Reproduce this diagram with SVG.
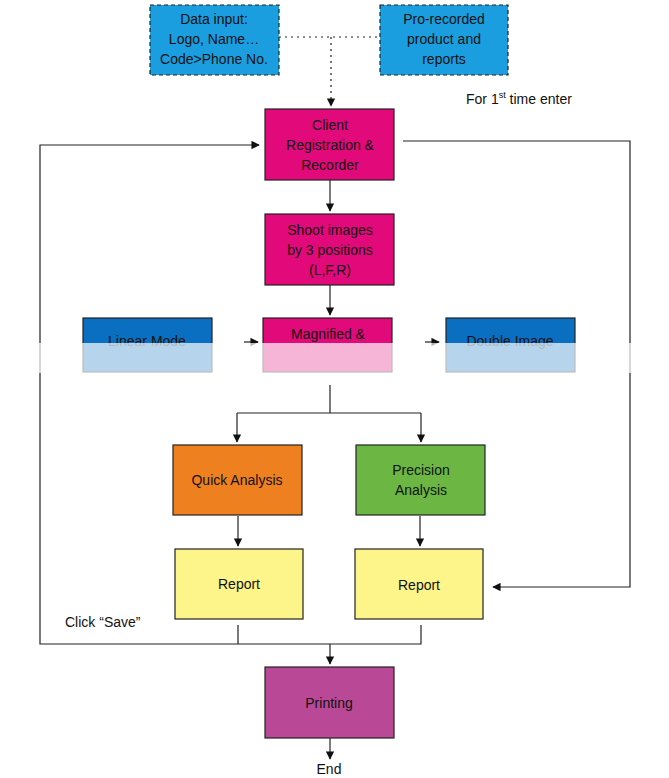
<svg xmlns="http://www.w3.org/2000/svg" width="669" height="778" viewBox="0 0 669 778">
<style>
text{font-family:"Liberation Sans",Arial,sans-serif;font-size:14px;fill:#111;text-anchor:middle}
.l{text-anchor:start}
.b{stroke:#222;stroke-width:1.2}
.c{fill:none;stroke:#222;stroke-width:1.2}
</style>
<defs><marker id="a" viewBox="0 0 10 10" refX="9" refY="5" markerWidth="7" markerHeight="7" orient="auto"><path d="M0,0L10,5L0,10z" fill="#111"/></marker></defs>
<rect width="669" height="778" fill="#fff"/>
<g id="connectors">
<path class="c" d="M279,37H380M331,37V106" stroke-dasharray="2,4" stroke-width="2" marker-end="url(#a)"/>
<path class="c" d="M330,180V211" marker-end="url(#a)"/>
<path class="c" d="M330,285V315" marker-end="url(#a)"/>
<path class="c" d="M330,385V413M237,413H421M237,413V442" marker-end="url(#a)"/>
<path class="c" d="M421,413V442" marker-end="url(#a)"/>
<path class="c" d="M238,516V546" marker-end="url(#a)"/>
<path class="c" d="M420,516V546" marker-end="url(#a)"/>
<path class="c" d="M238,625V644M421,625V644H40V145H259" marker-end="url(#a)"/>
<path class="c" d="M330,644V664" marker-end="url(#a)"/>
<path class="c" d="M403,141H630V587H493" marker-end="url(#a)"/>
<path class="c" d="M330,738V759" marker-end="url(#a)"/>
<path class="c" d="M244,342H258" marker-end="url(#a)"/>
<path class="c" d="M425,342H439" marker-end="url(#a)"/>
</g>
<g id="data"><rect x="150" y="5" width="129" height="70" fill="#1a9ee0" class="b" stroke-dasharray="4,3"/><text x="214" y="24">Data input:</text><text x="214" y="44">Logo, Name…</text><text x="214" y="64">Code&gt;Phone No.</text></g>
<g id="pro"><rect x="380" y="5" width="128" height="70" fill="#1a9ee0" class="b" stroke-dasharray="4,3"/><text x="444" y="24">Pro-recorded</text><text x="444" y="44">product and</text><text x="444" y="64">reports</text></g>
<text x="466" y="104" class="l">For 1<tspan font-size="9" dy="-6">st</tspan><tspan dy="6"> time enter</tspan></text>
<g id="client"><rect x="265" y="109" width="129" height="71" fill="#e2097a" class="b"/><text x="330" y="130">Client</text><text x="330" y="150">Registration &amp;</text><text x="330" y="170">Recorder</text></g>
<g id="shoot"><rect x="265" y="214" width="129" height="71" fill="#e2097a" class="b"/><text x="330" y="235">Shoot images</text><text x="330" y="255">by 3 positions</text><text x="330" y="275">(L,F,R)</text></g>
<g id="linear"><rect x="83" y="318" width="129" height="54" fill="#0a6fc0" class="b"/><text x="147" y="346">Linear Mode</text></g>
<g id="magnified"><rect x="263" y="318" width="129" height="54" fill="#e2097a" class="b"/><text x="328" y="339">Magnified &amp;</text></g>
<g id="double"><rect x="446" y="318" width="129" height="54" fill="#0a6fc0" class="b"/><text x="510" y="346">Double Image</text></g>
<rect x="0" y="343" width="669" height="30" fill="#fff" opacity="0.7"/>
<g id="quick"><rect x="173" y="445" width="129" height="70" fill="#ef8020" class="b"/><text x="237" y="485">Quick Analysis</text></g>
<g id="precision"><rect x="356" y="445" width="129" height="70" fill="#6cb643" class="b"/><text x="421" y="475">Precision</text><text x="421" y="495">Analysis</text></g>
<g id="report1"><rect x="175" y="549" width="128" height="70" fill="#fdf48a" class="b"/><text x="239" y="589">Report</text></g>
<g id="report2"><rect x="355" y="549" width="128" height="70" fill="#fdf48a" class="b"/><text x="419" y="590">Report</text></g>
<text x="65" y="627" class="l">Click “Save”</text>
<g id="printing"><rect x="265" y="667" width="129" height="71" fill="#b94896" class="b"/><text x="329" y="708">Printing</text></g>
<text x="329" y="774">End</text>
</svg>
